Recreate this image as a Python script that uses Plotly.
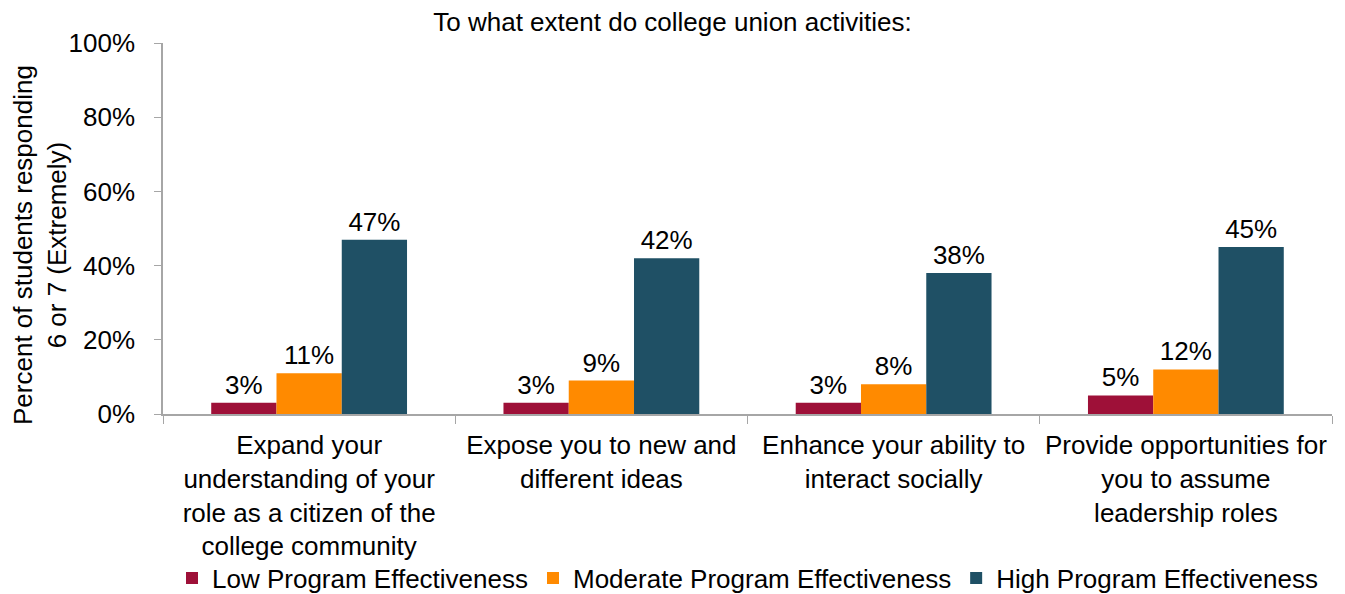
import plotly.graph_objects as go

# Survey items (x categories), wrapped onto several lines
categories = [
    "Expand your<br>understanding of your<br>role as a citizen of the<br>college community",
    "Expose you to new and<br>different ideas",
    "Enhance your ability to<br>interact socially",
    "Provide opportunities for<br>you to assume<br>leadership roles",
]

# Percent of students responding 6 or 7, by program effectiveness
low_effectiveness = [3, 3, 3, 5]
moderate_effectiveness = [11, 9, 8, 12]
high_effectiveness = [47, 42, 38, 45]

series_names = [
    "Low Program Effectiveness",
    "Moderate Program Effectiveness",
    "High Program Effectiveness",
]
series_colors = ["#9E1038", "#FF8A00", "#1F5065"]

FONT = "Liberation Sans, Arial, sans-serif"
FS = 26

fig = go.Figure()
for name, vals, color in zip(
    series_names,
    [low_effectiveness, moderate_effectiveness, high_effectiveness],
    series_colors,
):
    fig.add_trace(
        go.Bar(
            x=categories,
            y=vals,
            name=name,
            marker=dict(color=color, line=dict(width=0)),
            text=[f"{v}%" for v in vals],
            textposition="outside",
            constraintext="none",
            textfont=dict(family=FONT, size=FS, color="black"),
            cliponaxis=False,
        )
    )

fig.update_layout(
    width=1345,
    height=594,
    margin=dict(l=163, r=13, t=43, b=180, autoexpand=False),
    paper_bgcolor="white",
    plot_bgcolor="white",
    font=dict(family=FONT, size=FS, color="black"),
    barmode="group",
    bargap=0.33,
    bargroupgap=0,
    title=dict(
        text="To what extent do college union activities:",
        x=0.5,
        xref="container",
        xanchor="center",
        y=1 - 22 / 594,
        yanchor="middle",
        font=dict(family=FONT, size=FS, color="black"),
    ),
    legend=dict(
        orientation="h",
        xref="paper",
        x=0.5,
        xanchor="center",
        yref="container",
        y=1 - 578 / 594,
        yanchor="middle",
        bgcolor="rgba(0,0,0,0)",
        font=dict(family=FONT, size=FS, color="black"),
        itemwidth=30,
        tracegroupgap=0,
    ),
    showlegend=True,
)

fig.update_xaxes(
    automargin=False,
    showline=True,
    linecolor="#A6A6A6",
    linewidth=1.5,
    ticks="outside",
    tickson="boundaries",
    ticklen=8,
    tickcolor="#A6A6A6",
    ticklabelstandoff=7,
    showgrid=False,
    tickfont=dict(family=FONT, size=FS, color="black"),
)

fig.update_yaxes(
    automargin=False,
    range=[0, 100],
    dtick=20,
    ticksuffix="%",
    showline=True,
    linecolor="#A6A6A6",
    linewidth=1.5,
    ticks="outside",
    ticklen=7,
    tickcolor="#A6A6A6",
    ticklabelstandoff=14,
    showgrid=False,
    zeroline=False,
    tickfont=dict(family=FONT, size=FS, color="black"),
)

# Rotated two-line y-axis title
fig.add_annotation(
    text="Percent of students responding<br>6 or 7 (Extremely)",
    textangle=-90,
    xref="paper",
    yref="paper",
    x=(40 - 163) / 1169,
    y=(414 - 245) / 371,
    xanchor="center",
    yanchor="middle",
    showarrow=False,
    font=dict(family=FONT, size=FS, color="black"),
)

fig.write_html("out.html")
